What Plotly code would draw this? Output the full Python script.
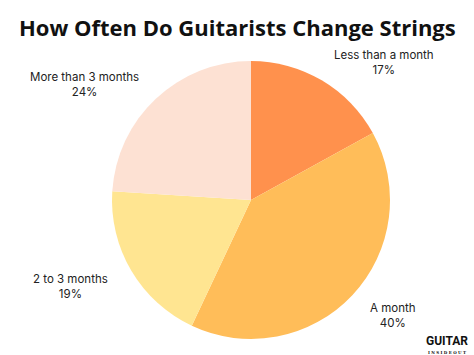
import plotly.graph_objects as go

categories = ["Less than a month", "A month", "2 to 3 months", "More than 3 months"]
shares = [17, 40, 19, 24]
colors = ["#FF914D", "#FFBD59", "#FFE591", "#FDE1D3"]
# label anchor positions (pixels in the 474x355 image, centre of text block)
label_pos = [(384, 63), (393, 315), (70, 286), (84, 84)]

W, H = 474, 355
cx, cy, r = 251, 200, 139

fig = go.Figure(go.Pie(
    labels=categories, values=shares, sort=False, direction="clockwise",
    rotation=0, marker=dict(colors=colors, line=dict(width=0)),
    textinfo="none", hoverinfo="label+percent", showlegend=False,
    domain=dict(x=[(cx - r) / W, (cx + r) / W], y=[(H - cy - r) / H, (H - cy + r) / H]),
))

anns = []
for cat, val, (px, py) in zip(categories, shares, label_pos):
    anns.append(dict(x=px / W, y=1 - py / H, xref="paper", yref="paper",
                     text=f"{cat}<br>{val}%", showarrow=False,
                     font=dict(family="Inter", size=11.5, color="#222222"),
                     xanchor="center", yanchor="middle", align="center"))
anns.append(dict(x=237 / W, y=1 - 27 / H, xref="paper", yref="paper",
                 text="<b>How Often Do Guitarists Change Strings</b>", showarrow=False,
                 font=dict(family="Open Sans", size=22, color="#111111"),
                 xanchor="center", yanchor="middle"))
anns.append(dict(x=447 / W, y=1 - 341 / H, xref="paper", yref="paper",
                 text="<b>GUITAR</b>", showarrow=False,
                 font=dict(family="Roboto", size=12, color="#111111"),
                 xanchor="center", yanchor="middle"))
anns.append(dict(x=447 / W, y=1 - 352 / H, xref="paper", yref="paper",
                 text="<b>I N S I D E O U T</b>", showarrow=False,
                 font=dict(family="DejaVu Serif", size=4, color="#111111"),
                 xanchor="center", yanchor="middle"))

fig.update_layout(width=W, height=H, margin=dict(l=0, r=0, t=0, b=0),
                  paper_bgcolor="white", plot_bgcolor="white", annotations=anns)
fig.write_html("out.html")
